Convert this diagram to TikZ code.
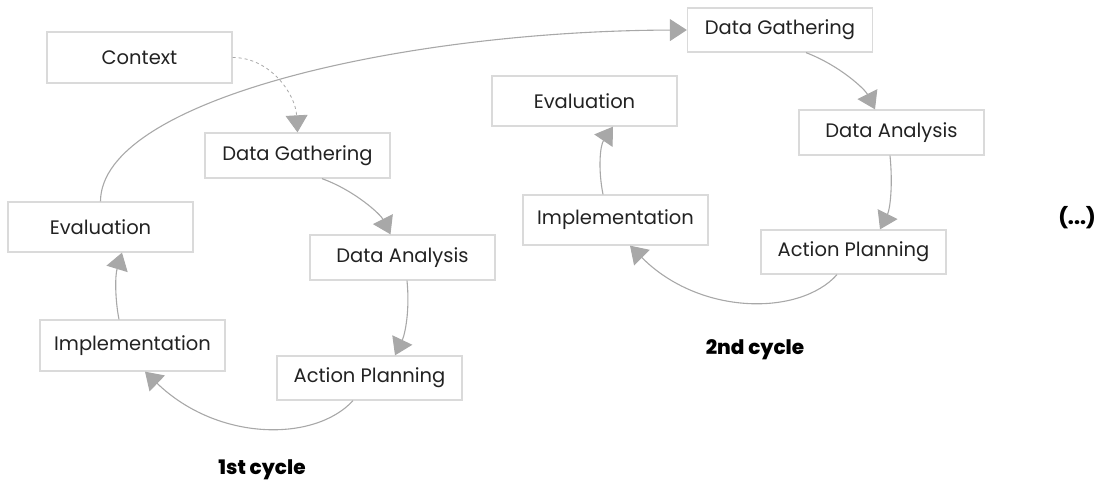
\documentclass[tikz,border=0pt]{standalone}
\usepackage{fontspec}
\setmainfont{Poppins}
\newfontfamily\heavyfont{Poppins}[UprightFont={* ExtraBold}]
\usetikzlibrary{arrows.meta}
\definecolor{boxline}{HTML}{DADADA}
\definecolor{flow}{HTML}{A8A8A8}
\definecolor{ink}{HTML}{222222}
\tikzset{
  stage/.style={draw=boxline, line width=1.3pt, fill=white, text=ink,
    minimum width=185pt, inner sep=0pt, font=\fontsize{19.5}{22}\selectfont},
  flowline/.style={draw=flow, line width=1.1pt,
    -{Triangle[length=17pt,width=22pt]}},
  cyclelabel/.style={text=black, font=\fontsize{20}{24}\selectfont\heavyfont},
}
\begin{document}
\begin{tikzpicture}[x=1pt,y=-1pt]
\useasboundingbox (0,0) rectangle (1099,486);

% first cycle
\node[stage, minimum height=51pt] (ctx) at (139.5,57.5) {Context};
\node[stage, minimum height=45pt] (dg1) at (297.5,155.5) {Data Gathering};
\node[stage, minimum height=50pt] (ev1) at (100.5,227) {Evaluation};
\node[stage, minimum height=45pt] (da1) at (402.5,257.5) {Data Analysis};
\node[stage, minimum height=51pt] (im1) at (132.5,345.5) {Implementation};
\node[stage, minimum height=44pt] (ap1) at (369.5,378) {Action Planning};
\node[cyclelabel] (c1) at (262,470) {1st cycle};

% second cycle
\node[stage, minimum height=44pt] (dg2) at (780,30) {Data Gathering};
\node[stage, minimum height=50pt] (ev2) at (584.5,101) {Evaluation};
\node[stage, minimum height=45pt] (da2) at (891.5,132.5) {Data Analysis};
\node[stage, minimum height=50pt] (im2) at (615.5,220) {Implementation};
\node[stage, minimum height=44pt] (ap2) at (853.5,252) {Action Planning};
\node[cyclelabel] (c2) at (755,350) {2nd cycle};

\node[cyclelabel] (more) at (1077,218) {(...)};

% connectors of the first cycle
\draw[flowline, dashed, line width=0.8pt] (ctx.east) .. controls +(38,0) and +(-2,-38) .. (dg1.north);
\draw[flowline] ([xshift=24.5pt]dg1.south) .. controls +(33,12) and +(-10,-20) .. ([xshift=-12pt]da1.north);
\draw[flowline] ([xshift=4.5pt]da1.south) .. controls +(3,30) and +(10,-21) .. ([xshift=25.5pt]ap1.north);
\draw[flowline] ([xshift=-16.5pt]ap1.south) .. controls (315,442) and (218,442) .. ([xshift=12.5pt]im1.south);
\draw[flowline] ([xshift=-13.5pt]im1.north) .. controls +(-4,-20) and +(-7,23) .. ([xshift=21.5pt]ev1.south);

% link to the second cycle
\draw[flowline] (ev1.north) .. controls (101,100) and (400,31) .. (dg2.west);

% connectors of the second cycle
\draw[flowline] ([xshift=26pt]dg2.south) .. controls +(34,13) and +(-10,-20) .. ([xshift=-16.5pt]da2.north);
\draw[flowline] ([xshift=-1.5pt]da2.south) .. controls +(3,30) and +(10,-20) .. ([xshift=26.5pt]ap2.north);
\draw[flowline] ([xshift=-16.5pt]ap2.south) .. controls (800,316) and (700,316) .. ([xshift=14.5pt]im2.south);
\draw[flowline] ([xshift=-12.5pt]im2.north) .. controls +(-5,-25) and +(-13,19) .. ([xshift=28.5pt]ev2.south);
\end{tikzpicture}
\end{document}
